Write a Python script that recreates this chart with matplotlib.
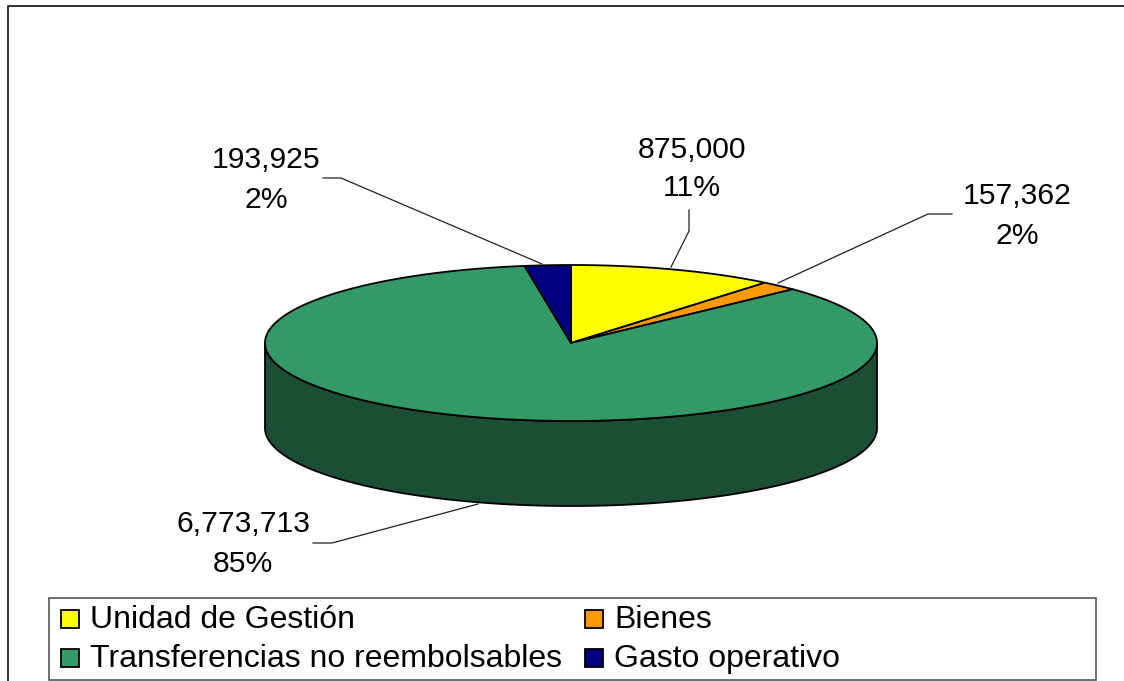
import numpy as np
import matplotlib
matplotlib.use('Agg')
import matplotlib.pyplot as plt
from matplotlib.patches import Polygon, Rectangle

plt.rcParams['font.family'] = ['Liberation Sans', 'DejaVu Sans']

# Data
categories = ['Unidad de Gestión', 'Bienes', 'Transferencias no reembolsables', 'Gasto operativo']
values = [875000, 157362, 6773713, 193925]
value_labels = ['875,000\n11%', '157,362\n2%', '6,773,713\n85%', '193,925\n2%']
colors = ['#FFFF00', '#FF9900', '#339966', '#000080']
side_colors = ['#808000', '#804C00', '#1C4E36', '#000040']

# Pie geometry in pixels
cx, cy = 571, 343
rx, ry = 306, 78
depth = 85

fig = plt.figure(figsize=(11.24, 6.81), dpi=100)
ax = fig.add_axes([0, 0, 1, 1])
ax.set_xlim(0, 1124)
ax.set_ylim(681, 0)
ax.axis('off')

# Outer frame (only top and left show in the crop)
ax.plot([7.5, 7.5, 1124], [681, 5.5, 5.5], color='#303030', lw=1.4, solid_capstyle='butt')


def rim(a0, a1):
    # angles clockwise from the top, in degrees
    t = np.radians(np.linspace(a0, a1, max(int(abs(a1 - a0) * 2), 2)))
    return cx + rx * np.sin(t), cy - ry * np.cos(t)


# Slice angles from the values
edges = np.cumsum([0] + values) / sum(values) * 360

# Side wall: the front half of the rim, extruded downwards
for i in range(len(values)):
    a0, a1 = max(edges[i], 90), min(edges[i + 1], 270)
    if a1 <= a0:
        continue
    x, y = rim(a0, a1)
    pts = np.r_[np.c_[x, y], np.c_[x[::-1], y[::-1] + depth]]
    ax.add_patch(Polygon(pts, closed=True, facecolor=side_colors[i], edgecolor='black', lw=1.3, zorder=2))

# Top face
for i in range(len(values)):
    x, y = rim(edges[i], edges[i + 1])
    pts = np.r_[[[cx, cy]], np.c_[x, y]]
    ax.add_patch(Polygon(pts, closed=True, facecolor=colors[i], edgecolor='black', lw=1.3,
                         joinstyle='round', zorder=3))

# Labels and leader lines
label_pos = [(692, 169), (1017, 216), (243, 544), (266, 180)]
leaders = [
    [(671, 267), (689, 231), (689, 210)],
    [(778, 283), (928, 214), (952, 214)],
    [(478, 504), (332, 543), (313, 543)],
    [(542, 264), (341, 178), (323, 178)],
]
for i in range(len(values)):
    ax.text(label_pos[i][0], label_pos[i][1], value_labels[i], ha='center', va='center',
            fontsize=21.7, color='black', linespacing=1.5, zorder=5)
    lx, ly = zip(*leaders[i])
    ax.plot(lx, ly, color='#202020', lw=0.9, zorder=4)

# Legend
ax.add_patch(Rectangle((48.5, 597.5), 1047.5, 82, facecolor='white', edgecolor='#555555', lw=1.2, zorder=3))
legend_x = [61, 585, 61, 585]
legend_y = [619, 619, 658, 658]
for i in range(len(values)):
    ax.add_patch(Rectangle((legend_x[i], legend_y[i] - 9), 18, 18, facecolor=colors[i],
                           edgecolor='black', lw=1.3, zorder=4))
    ax.text(legend_x[i] + 29, legend_y[i] + 1, categories[i], ha='left', va='center',
            fontsize=23, color='black', zorder=5)

fig.savefig('out.png', dpi=100)
plt.close(fig)
